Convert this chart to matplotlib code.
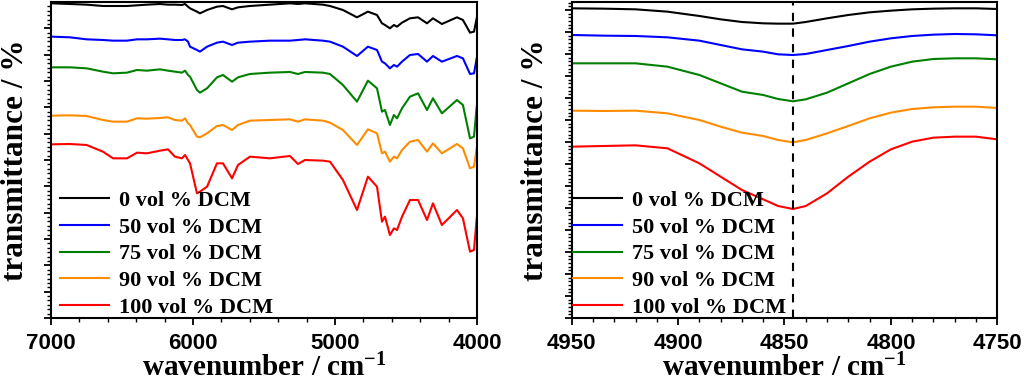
import matplotlib
matplotlib.use('Agg')
import matplotlib.pyplot as plt
from matplotlib.ticker import FixedLocator, MultipleLocator
import numpy as np

# ---------------- data ----------------
labels = ['0 vol % DCM', '50 vol % DCM', '75 vol % DCM', '90 vol % DCM', '100 vol % DCM']
colors = ['#000000', '#0000ff', '#008000', '#ff8c00', '#ff0000']

# left panel: full NIR range
wn_full = [6995, 6866, 6749, 6634, 6563, 6465, 6394, 6324, 6232, 6176, 6127, 6078, 6056,
           6035, 6021, 5972, 5951, 5901, 5831, 5789, 5725, 5683, 5599, 5458, 5317, 5261,
           5211, 5085, 5035, 4944, 4845, 4768, 4704, 4669, 4648, 4613, 4585, 4563, 4528,
           4472, 4415, 4352, 4310, 4247, 4141, 4099, 4049, 4021, 4002]
t0_full = [95.0, 94.8, 94.6, 94.2, 94.2, 94.2, 94.4, 94.6, 94.8, 94.6, 94.6, 94.5, 94.8,
           94.0, 93.5, 92.5, 92.0, 93.0, 94.0, 94.2, 93.2, 93.8, 94.2, 94.6, 95.0, 94.8,
           95.0, 94.6, 94.2, 93.0, 90.8, 92.5, 91.5, 89.0, 88.5, 87.5, 88.5, 88.0, 89.2,
           90.5, 90.8, 89.0, 90.5, 88.8, 90.8, 90.0, 86.2, 86.5, 90.5]
t50_full = [85.0, 84.8, 84.2, 84.0, 83.8, 83.8, 84.2, 84.2, 84.4, 84.2, 84.0, 84.0, 84.2,
            83.5, 82.0, 81.0, 80.5, 82.0, 83.2, 83.5, 82.5, 83.2, 83.5, 83.8, 83.8, 84.0,
            84.2, 83.8, 83.5, 82.0, 79.2, 82.0, 81.0, 77.5, 77.0, 75.5, 76.5, 76.0, 77.5,
            79.5, 79.8, 77.5, 79.2, 77.5, 79.2, 78.5, 73.8, 74.0, 78.5]
t75_full = [75.8, 75.8, 75.5, 74.5, 74.0, 74.2, 75.0, 74.8, 75.2, 74.8, 74.5, 74.2, 74.8,
            73.5, 73.0, 69.0, 68.2, 69.5, 72.8, 73.5, 71.5, 72.8, 73.8, 74.2, 74.4, 73.8,
            74.4, 74.2, 73.8, 70.5, 65.5, 71.8, 69.5, 62.5, 63.0, 58.5, 61.5, 60.5, 63.5,
            67.0, 68.0, 63.0, 66.5, 62.0, 66.0, 64.5, 54.5, 55.0, 64.0]
t90_full = [61.3, 61.4, 61.2, 60.0, 59.5, 59.5, 60.5, 60.4, 60.6, 60.8, 60.0, 59.8, 60.5,
            59.0, 58.5, 55.0, 54.8, 56.0, 58.2, 58.5, 57.0, 58.5, 59.8, 60.0, 60.2, 59.5,
            60.2, 59.8, 59.2, 57.0, 52.5, 57.2, 56.0, 50.0, 50.5, 47.5, 49.0, 48.5, 51.0,
            53.5, 54.0, 50.5, 53.0, 50.0, 52.8, 51.5, 45.5, 46.0, 51.5]
t100_full = [52.7, 52.8, 52.5, 50.5, 48.5, 48.5, 50.2, 50.0, 50.8, 51.2, 49.0, 48.5, 49.5,
             48.0, 47.0, 38.0, 38.5, 40.0, 47.0, 47.0, 42.5, 46.5, 49.0, 48.5, 49.2, 46.8,
             48.0, 47.8, 47.5, 42.0, 33.0, 43.0, 40.0, 29.5, 31.0, 25.5, 27.5, 27.0, 31.0,
             36.0, 36.0, 30.0, 35.0, 28.5, 33.0, 30.5, 20.5, 21.0, 30.5]

# right panel: zoom on the 4850 cm-1 band
wn_zoom = [4950, 4935, 4920, 4905, 4890, 4880, 4870, 4860, 4853, 4846,
           4840, 4830, 4820, 4810, 4800, 4790, 4780, 4770, 4760, 4750]
t0_zoom = [93.5, 93.4, 93.2, 92.5, 91.2, 90.2, 89.4, 89.0, 88.9, 88.9,
           89.4, 90.5, 91.5, 92.3, 92.8, 93.2, 93.4, 93.5, 93.5, 93.3]
t50_zoom = [85.5, 85.3, 85.2, 84.8, 83.8, 82.5, 81.2, 80.5, 79.7, 79.5,
            79.8, 81.0, 82.2, 83.5, 84.5, 85.2, 85.6, 85.8, 85.7, 85.4]
t75_zoom = [77.0, 77.0, 77.0, 76.0, 73.5, 71.0, 68.5, 67.5, 66.3, 65.6,
            66.2, 68.2, 71.0, 73.8, 76.0, 77.5, 78.3, 78.5, 78.5, 78.2]
t90_zoom = [62.8, 62.7, 62.8, 62.0, 60.0, 58.0, 56.2, 55.2, 54.0, 53.3,
            54.0, 56.0, 58.2, 60.5, 62.2, 63.3, 63.8, 64.0, 64.0, 63.6]
t100_zoom = [52.0, 52.2, 52.4, 51.5, 47.0, 43.0, 39.0, 36.2, 34.2, 33.3,
             34.2, 38.0, 43.0, 47.5, 51.2, 53.5, 54.7, 55.0, 55.0, 54.2]
band_position = 4846

full_series = [t0_full, t50_full, t75_full, t90_full, t100_full]
zoom_series = [t0_zoom, t50_zoom, t75_zoom, t90_zoom, t100_zoom]

# ---------------- styling ----------------
plt.rcParams['font.family'] = ['Liberation Serif', 'DejaVu Serif']
plt.rcParams['font.weight'] = 'bold'
plt.rcParams['mathtext.fontset'] = 'custom'
plt.rcParams['mathtext.rm'] = 'Liberation Serif:bold'
plt.rcParams['mathtext.bf'] = 'Liberation Serif:bold'
plt.rcParams['mathtext.it'] = 'Liberation Serif:bold'

fig = plt.figure(figsize=(10.24, 3.83), dpi=100)
ax1 = fig.add_axes([0.0498, 0.1697, 0.416, 0.8238])
ax2 = fig.add_axes([0.5583, 0.1697, 0.4156, 0.8238])

ylo, yhi = 0.6, 95.25

def style(ax, xmaj, xmin, ystep):
    ax.set_ylim(ylo, yhi)
    ax.xaxis.set_major_locator(MultipleLocator(xmaj))
    ax.xaxis.set_minor_locator(MultipleLocator(xmin))
    ymaj = np.arange(ylo, yhi + 0.01, ystep)
    ax.yaxis.set_major_locator(FixedLocator(ymaj))
    ax.yaxis.set_minor_locator(FixedLocator(np.arange(ylo, yhi + 0.01, ystep / 6)))
    ax.tick_params(which='major', direction='out', length=5, width=1.3,
                   top=False, right=False, pad=6)
    ax.tick_params(which='minor', direction='out', length=3, width=1.0,
                   top=False, right=False)
    ax.tick_params(axis='y', labelleft=False)
    for lab in ax.get_xticklabels():
        lab.set_fontfamily('Liberation Sans')
        lab.set_fontweight('bold')
        lab.set_fontsize(16)
    for sp in ax.spines.values():
        sp.set_linewidth(1.5)
    ax.set_xlabel(r'wavenumber / cm$^{\mathbf{-1}}$', fontsize=21, fontweight='bold')
    ax.set_ylabel('transmittance / %', fontsize=22.5, fontweight='bold')
    ax.xaxis.set_label_coords(0.5, -0.112)
    ax.yaxis.set_label_coords(-0.05, 0.5)

for ys, c, lab in zip(full_series, colors, labels):
    ax1.plot(wn_full, ys, color=c, lw=1.5, label=lab)
ax1.set_xlim(7000, 4000)
style(ax1, 1000, 200, 7.9)

for ys, c, lab in zip(zoom_series, colors, labels):
    ax2.plot(wn_zoom, ys, color=c, lw=1.5, label=lab)
ax2.axvline(band_position, color='black', lw=1.5, dashes=(4, 3.5))
ax2.set_xlim(4950, 4750)
style(ax2, 50, 10, 6.6)

leg_kw = dict(loc='lower left', frameon=False, handlelength=2.2,
              handletextpad=0.45, labelspacing=0.28, borderpad=0, borderaxespad=0,
              prop={'family': 'Liberation Serif', 'weight': 'bold', 'size': 16})
ax1.legend(bbox_to_anchor=(0.021, 0.0), **leg_kw)
ax2.legend(bbox_to_anchor=(0.003, 0.0), **leg_kw)

fig.savefig('out.png', dpi=100)
